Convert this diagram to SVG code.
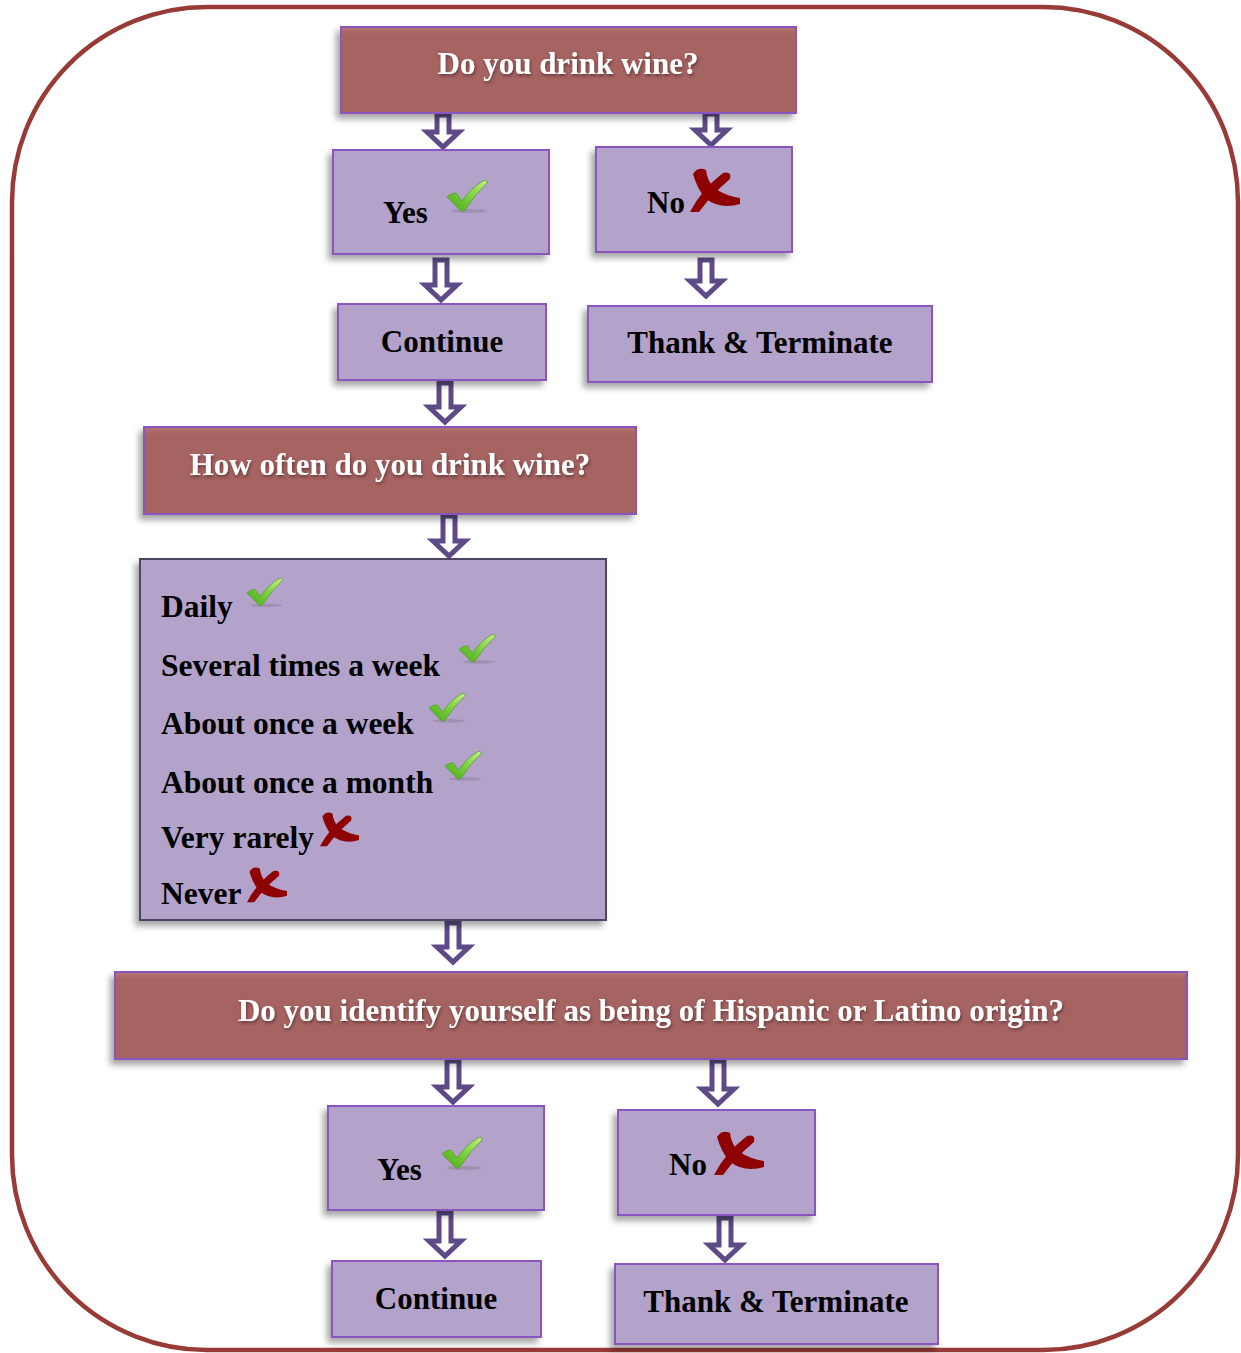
<svg xmlns="http://www.w3.org/2000/svg" xmlns:xlink="http://www.w3.org/1999/xlink" width="1241" height="1353" viewBox="0 0 1241 1353">
<style>
.q{fill:url(#rose);stroke:#8a55bf;stroke-width:2}
.o{fill:#b3a2c9;stroke:#8a55bf;stroke-width:2}
.lst{fill:#b3a2c9;stroke:#4e4462;stroke-width:2}
.wt{font-family:"Liberation Serif","Times New Roman",serif;font-weight:bold;font-size:31px;fill:#ffffff;text-anchor:middle}
.bt{font-family:"Liberation Serif","Times New Roman",serif;font-weight:bold;font-size:31px;fill:#000000}
.lt{font-family:"Liberation Serif","Times New Roman",serif;font-weight:bold;font-size:31.5px;fill:#000000}
.arr{fill:#ffffff;stroke:#5e4a87;stroke-width:5;stroke-linejoin:miter}
</style>
<defs>
<linearGradient id="rose" x1="0" y1="0" x2="0" y2="1">
<stop offset="0" stop-color="#b87676"/>
<stop offset="0.08" stop-color="#a56462"/>
<stop offset="1" stop-color="#a56462"/>
</linearGradient>
<linearGradient id="grn" x1="1" y1="0" x2="0" y2="1">
<stop offset="0" stop-color="#c2f284"/>
<stop offset="0.5" stop-color="#78cf3a"/>
<stop offset="1" stop-color="#4aa51c"/>
</linearGradient>
<filter id="sh" x="-15%" y="-15%" width="130%" height="140%">
<feDropShadow dx="-4" dy="5" stdDeviation="3" flood-color="#000" flood-opacity="0.35"/>
</filter>
<filter id="ts" x="-5%" y="-30%" width="110%" height="170%">
<feDropShadow dx="1" dy="2" stdDeviation="1.5" flood-color="#3a1a1a" flood-opacity="0.6"/>
</filter>
<g id="chk">
<ellipse cx="22" cy="31" rx="18" ry="2" fill="#000" opacity="0.1"/>
<path d="M0,17 Q4,13 9,13 L15,21 Q24,8 36,1 Q40,-1 40,3 Q28,14 18,30 Q16,33 13,30 Z" fill="url(#grn)" stroke="#4f9e22" stroke-width="0.8"/>
</g>
<g id="xm" fill="#8e0202">
<path d="M3,6 Q8,-2 16,2 Q17,12 24,20 Q36,28 50,30 L50,36 Q30,42 15,30 Q7,20 3,6 Z"/>
<path d="M33,5 Q42,3 40,11 Q22,26 9,44 L0,44 Q11,22 33,5 Z"/>
</g>
</defs>

<rect x="12" y="7" width="1226" height="1343" rx="195" ry="195" fill="none" stroke="#983a36" stroke-width="4.5"/>

<g id="connectors">
<path class="arr" d="M437,115 L449,115 L449,132 L459,132 L443,147 L427,132 L437,132 Z"/>
<path class="arr" d="M705,114 L717,114 L717,130 L727,130 L711,145 L695,130 L705,130 Z"/>
<path class="arr" d="M435,260 L447,260 L447,285 L457,285 L441,300 L425,285 L435,285 Z"/>
<path class="arr" d="M700,260 L712,260 L712,281 L722,281 L706,296 L690,281 L700,281 Z"/>
<path class="arr" d="M439,383 L451,383 L451,407 L461,407 L445,422 L429,407 L439,407 Z"/>
<path class="arr" d="M443,516 L455,516 L455,541 L465,541 L449,556 L433,541 L443,541 Z"/>
<path class="arr" d="M447,923 L459,923 L459,947 L469,947 L453,962 L437,947 L447,947 Z"/>
<path class="arr" d="M447,1061 L459,1061 L459,1087 L469,1087 L453,1102 L437,1087 L447,1087 Z"/>
<path class="arr" d="M712,1061 L724,1061 L724,1089 L734,1089 L718,1104 L702,1089 L712,1089 Z"/>
<path class="arr" d="M439,1213 L451,1213 L451,1241 L461,1241 L445,1256 L429,1241 L439,1241 Z"/>
<path class="arr" d="M719,1218 L731,1218 L731,1245 L741,1245 L725,1260 L709,1245 L719,1245 Z"/>
</g>

<g id="q1">
<rect class="q" x="341" y="27" width="455" height="86" filter="url(#sh)"/>
<text class="wt" x="568" y="74" filter="url(#ts)">Do you drink wine?</text>
</g>
<g id="yes1">
<rect class="o" x="333" y="150" width="216" height="104" filter="url(#sh)"/>
<text class="bt" x="383" y="223">Yes</text>
<use xlink:href="#chk" transform="translate(447,180)"/>
</g>
<g id="no1">
<rect class="o" x="596" y="147" width="196" height="105" filter="url(#sh)"/>
<text class="bt" x="647" y="213">No</text>
<use xlink:href="#xm" transform="translate(690,168)"/>
</g>
<g id="cont1">
<rect class="o" x="338" y="304" width="208" height="76" filter="url(#sh)"/>
<text class="bt" x="442" y="352" text-anchor="middle">Continue</text>
</g>
<g id="term1">
<rect class="o" x="588" y="306" width="344" height="76" filter="url(#sh)"/>
<text class="bt" x="760" y="353" text-anchor="middle">Thank &amp; Terminate</text>
</g>
<g id="q2">
<rect class="q" x="144" y="427" width="492" height="87" filter="url(#sh)"/>
<text class="wt" x="390" y="475" filter="url(#ts)">How often do you drink wine?</text>
</g>
<g id="options">
<rect class="lst" x="140" y="559" width="466" height="361" filter="url(#sh)"/>
<text class="lt" x="161" y="617">Daily</text>
<use xlink:href="#chk" transform="translate(247,578) scale(0.88)"/>
<text class="lt" x="161" y="676">Several times a week</text>
<use xlink:href="#chk" transform="translate(459,634) scale(0.9)"/>
<text class="lt" x="161" y="734">About once a week</text>
<use xlink:href="#chk" transform="translate(429,693) scale(0.9)"/>
<text class="lt" x="161" y="793">About once a month</text>
<use xlink:href="#chk" transform="translate(445,751) scale(0.9)"/>
<text class="lt" x="161" y="848">Very rarely</text>
<use xlink:href="#xm" transform="translate(320,812) scale(0.78)"/>
<text class="lt" x="161" y="904">Never</text>
<use xlink:href="#xm" transform="translate(247,867) scale(0.8)"/>
</g>
<g id="q3">
<rect class="q" x="115" y="972" width="1072" height="87" filter="url(#sh)"/>
<text class="wt" x="651" y="1021" filter="url(#ts)">Do you identify yourself as being of Hispanic or Latino origin?</text>
</g>
<g id="yes2">
<rect class="o" x="328" y="1106" width="216" height="104" filter="url(#sh)"/>
<text class="bt" x="377" y="1180">Yes</text>
<use xlink:href="#chk" transform="translate(442,1137)"/>
</g>
<g id="no2">
<rect class="o" x="618" y="1110" width="197" height="105" filter="url(#sh)"/>
<text class="bt" x="669" y="1175">No</text>
<use xlink:href="#xm" transform="translate(714,1131)"/>
</g>
<g id="cont2">
<rect class="o" x="332" y="1261" width="209" height="76" filter="url(#sh)"/>
<text class="bt" x="436" y="1309" text-anchor="middle">Continue</text>
</g>
<g id="term2">
<rect class="o" x="615" y="1264" width="323" height="80" filter="url(#sh)"/>
<text class="bt" x="776" y="1312" text-anchor="middle">Thank &amp; Terminate</text>
</g>
</svg>
